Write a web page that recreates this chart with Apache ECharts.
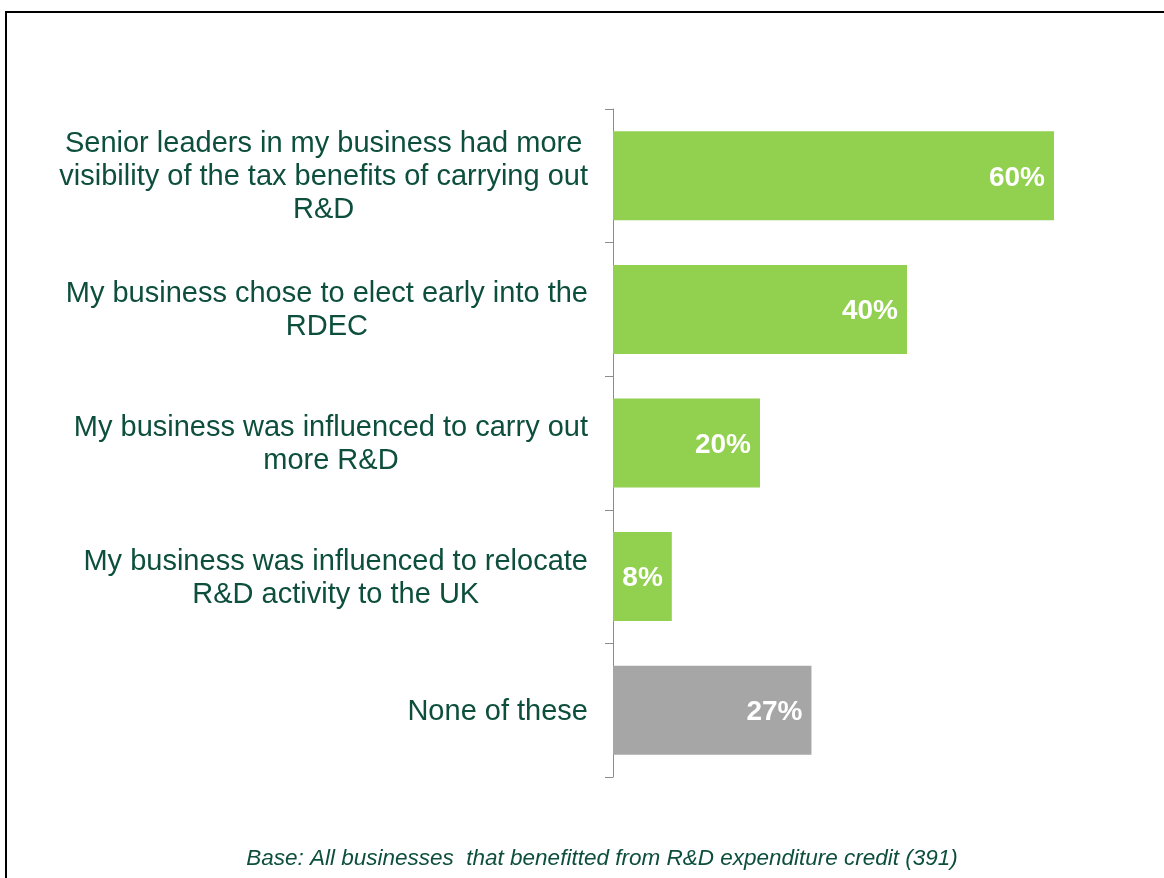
<!DOCTYPE html>
<html>
<head>
<meta charset="utf-8">
<style>
  html, body { margin: 0; padding: 0; background: #ffffff; }
  #chart { width: 1164px; height: 878px; }
</style>
<script src="https://cdn.jsdelivr.net/npm/echarts@6/dist/echarts.min.js"></script>
</head>
<body>
<div id="chart"></div>
<script>
// Survey statements (top to bottom) and share of businesses agreeing, in percent
const categories = [
  'Senior leaders in my business had more\nvisibility of the tax benefits of carrying out\nR&D',
  'My business chose to elect early into the\nRDEC',
  'My business was influenced to carry out\nmore R&D',
  'My business was influenced to relocate\nR&D activity to the UK',
  'None of these'
];
const values = [60, 40, 20, 8, 27];
const barColors = ['#92D050', '#92D050', '#92D050', '#92D050', '#A6A6A6'];
const footnote = 'Base: All businesses  that benefitted from R&D expenditure credit (391)';

const chart = echarts.init(document.getElementById('chart'), null, { renderer: 'canvas' });

chart.setOption({
  backgroundColor: '#ffffff',
  animation: false,
  title: {
    text: footnote,
    left: 597,
    top: 842,
    textAlign: 'center',
    textStyle: {
      color: '#0D4F3C',
      fontStyle: 'italic',
      fontWeight: 'normal',
      fontSize: 22.5,
      fontFamily: "'Liberation Sans Narrow', 'Arial Narrow', 'Liberation Sans', Arial, sans-serif"
    }
  },
  graphic: [{
    type: 'rect',
    shape: { x: 6, y: 12, width: 1300, height: 1000 },
    style: { fill: 'none', stroke: '#000000', lineWidth: 2 },
    silent: true
  }],
  grid: { left: 613, top: 109, width: 514.5, bottom: 101, containLabel: false },
  xAxis: {
    type: 'value',
    min: 0,
    max: 70,
    show: false
  },
  yAxis: {
    type: 'category',
    inverse: true,
    data: categories,
    axisLine: { show: true, lineStyle: { color: '#8C8C8C', width: 1 } },
    axisTick: { show: true, length: 8, lineStyle: { color: '#8C8C8C', width: 1 } },
    axisLabel: {
      margin: 25,
      color: '#0D4F3C',
      fontSize: 29,
      fontFamily: "'Liberation Sans', Arial, sans-serif",
      formatter: v => '{c|' + v + '}',
      rich: {
        c: {
          align: 'center',
          color: '#0D4F3C',
          fontSize: 29,
          lineHeight: 33,
          padding: [3, 0, 0, 0],
          fontFamily: "'Liberation Sans', Arial, sans-serif"
        }
      }
    },
    splitLine: { show: false }
  },
  series: [{
    type: 'bar',
    barWidth: 89,
    data: values.map((v, i) => ({ value: v, itemStyle: { color: barColors[i] } })),
    label: {
      show: true,
      position: 'insideRight',
      distance: 9,
      offset: [0, 2],
      formatter: p => p.value + '%',
      color: '#ffffff',
      fontWeight: 'bold',
      fontSize: 28,
      fontFamily: "'Liberation Sans', Arial, sans-serif"
    }
  }]
});
</script>
</body>
</html>
